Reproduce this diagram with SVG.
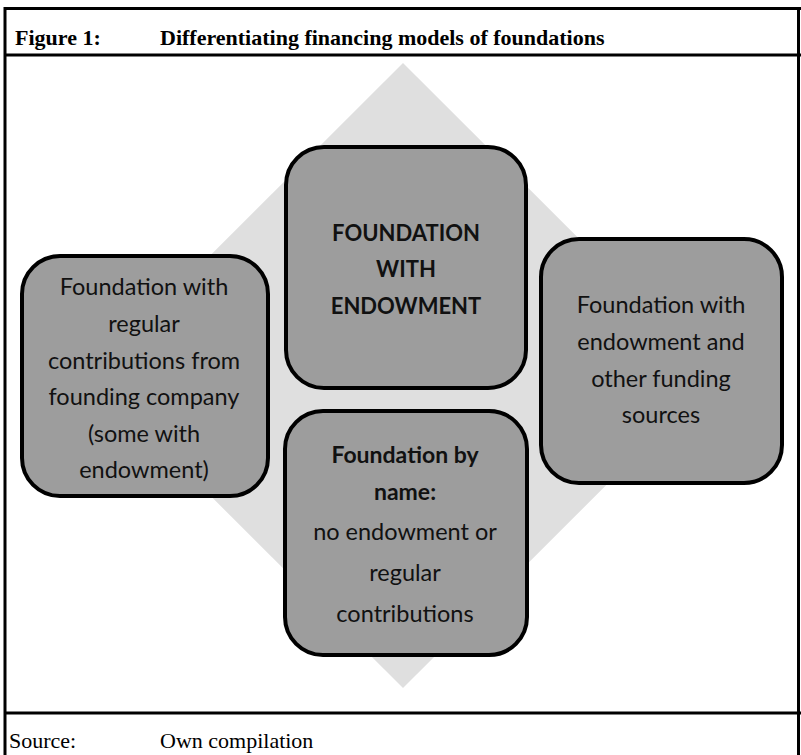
<svg xmlns="http://www.w3.org/2000/svg" width="801" height="755" viewBox="0 0 801 755">
  <style>
    .frame { stroke: #000; stroke-width: 3; fill: none; }
    .title { font-family: "Liberation Serif", "Times New Roman", serif; font-size: 22px; font-weight: bold; fill: #000; }
    .src { font-family: "Liberation Serif", "Times New Roman", serif; font-size: 22px; fill: #000; }
    .box { fill: #9d9d9d; stroke: #000; stroke-width: 4; }
    .t { font-family: Lato, "Open Sans", sans-serif; font-size: 23.5px; fill: #111; text-anchor: middle; }
    .b { font-weight: bold; font-size: 22px; }
    .b2 { font-weight: bold; font-size: 23px; }
  </style>
  <rect width="801" height="755" fill="#fff"/>
  <polygon id="diamond" points="403,63 716,375.5 403,688 90,375.5" fill="#dfdfdf"/>
  <g id="frame">
    <line class="frame" x1="4" y1="8.5" x2="801" y2="8.5"/>
    <line class="frame" x1="4" y1="55" x2="801" y2="55"/>
    <line class="frame" x1="4" y1="713" x2="801" y2="713"/>
    <line class="frame" x1="5" y1="7" x2="5" y2="755"/>
    <line class="frame" x1="798.5" y1="7" x2="798.5" y2="755"/>
  </g>
  <g id="header">
    <text class="title" x="15" y="45">Figure 1:</text>
    <text class="title" x="160" y="45">Differentiating financing models of foundations</text>
  </g>
  <g id="footer">
    <text class="src" x="9" y="748">Source:</text>
    <text class="src" x="160" y="748">Own compilation</text>
  </g>
  <g id="connectors"/>
  <g id="node-endowment">
    <rect class="box" x="286" y="147" width="240" height="241" rx="38"/>
    <text class="t b" x="406" y="241">FOUNDATION</text>
    <text class="t b" x="406" y="277">WITH</text>
    <text class="t b" x="406" y="314">ENDOWMENT</text>
  </g>
  <g id="node-regular">
    <rect class="box" x="22" y="256" width="246" height="240" rx="38"/>
    <text class="t" x="144" y="295">Foundation with</text>
    <text class="t" x="144" y="332">regular</text>
    <text class="t" x="144" y="369">contributions from</text>
    <text class="t" x="144" y="405">founding company</text>
    <text class="t" x="144" y="442">(some with</text>
    <text class="t" x="144" y="478">endowment)</text>
  </g>
  <g id="node-other">
    <rect class="box" x="541" y="239" width="241" height="244" rx="38"/>
    <text class="t" x="661" y="313">Foundation with</text>
    <text class="t" x="661" y="350">endowment and</text>
    <text class="t" x="661" y="387">other funding</text>
    <text class="t" x="661" y="423">sources</text>
  </g>
  <g id="node-byname">
    <rect class="box" x="285" y="411" width="242" height="244" rx="38"/>
    <text class="t b2" x="405" y="463">Foundation by</text>
    <text class="t b2" x="405" y="500">name:</text>
    <text class="t" x="405" y="540">no endowment or</text>
    <text class="t" x="405" y="581">regular</text>
    <text class="t" x="405" y="622">contributions</text>
  </g>
</svg>
